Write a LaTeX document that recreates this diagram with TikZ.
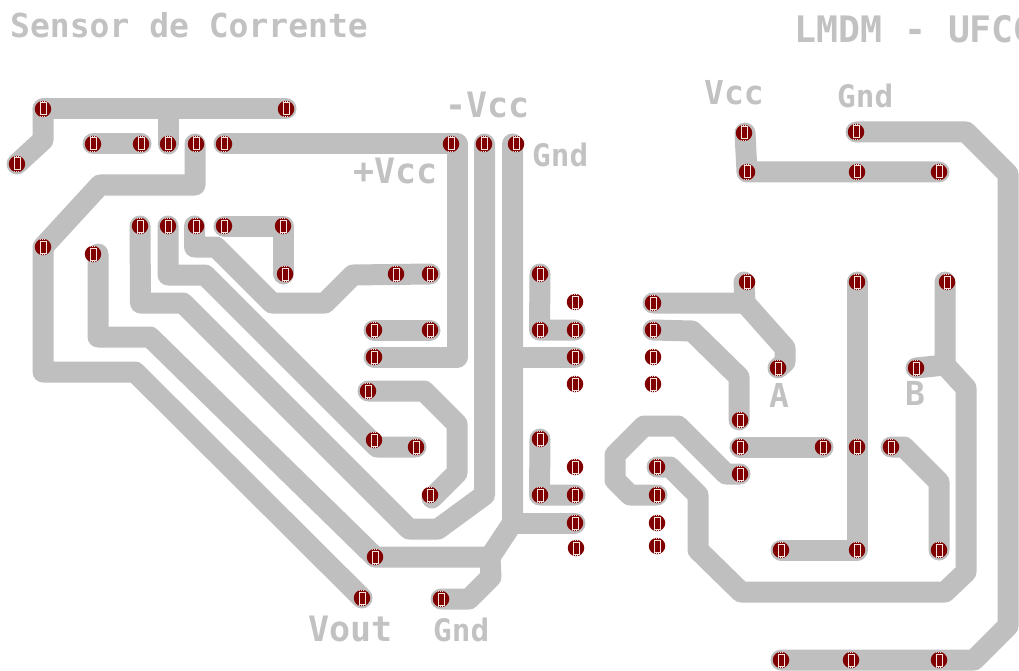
\documentclass[tikz,border=0pt]{standalone}
\usepackage{fontspec}
\setmainfont{DejaVu Sans Mono}
\definecolor{trk}{HTML}{BFBFBF}
\definecolor{txtc}{HTML}{C2C2C2}
\definecolor{padc}{HTML}{800000}
\definecolor{padm}{HTML}{F4E4E4}
\tikzset{
  trace/.style={draw=trk,line width=21pt,line cap=round,line join=round},
  padnode/.style={circle,fill=padc,draw=none,minimum size=16.5pt,inner sep=0pt,
    path picture={
      \draw[padm,line width=1pt] (-3,-6) rectangle (3,6);
      \draw[padm,line width=1pt,dash pattern=on 1pt off 1pt] (-3,-9) -- (3,-9) (-3,-7.6) -- (3,-7.6) (-3,9) -- (3,9) (-3,7.6) -- (3,7.6);
    }},
  lbl/.style={text=txtc,inner sep=0pt,anchor=base west,font=\bfseries\fontsize{33}{33}\selectfont},
}
\begin{document}
\begin{tikzpicture}[x=1pt,y=-1pt]
\useasboundingbox (0,0) rectangle (1019,671);
\foreach \n/\x/\y in {
 a/43/109,b/286/109,c/17/164,d/93/144,e/141/144,f/168/144,g/196/144,h/224/144,i/451/144,j/484/144,k/516/144,
 l/43/247,m/93/254,n/140/226,o/168/226,q/196/226,r/224/226,s/283/226,t/285/274,u/396/274,v/430/274,
 w/374/330,x/430/330,y/374/357,z/368/391,aa/374/440,ab/416/447,ac/430/495,ad/375/557,ae/362/598,af/441/599,
 ag/540/274,ah/575/302,ai/540/330,aj/575/330,ak/575/357,al/575/384,am/540/439,an/575/467,ao/540/495,ap/575/495,aq/575/523,ar/576/548,
 as/653/303,at/653/330,au/653/357,av/653/384,aw/657/467,ax/657/495,ay/657/523,az/657/546,
 ba/744/133,bb/856/132,bc/747/172,bd/857/172,be/939/172,bf/747/282,bg/857/282,bh/947/282,bi/778/368,bj/916/368,
 bk/740/420,bl/740/447,bm/823/447,bn/857/447,bo/891/447,bp/740/474,bq/781/550,br/857/550,bs/939/550,bt/781/660,bu/851/660,bv/939/660}
 {\coordinate (p\n) at (\x,\y);}
% traces
\draw[trace] (pa) -- (43,140) -- (pc);
\draw[trace] (pa) -- (pb);
\draw[trace] (168,109) -- (pf);
\draw[trace] (pd) -- (pe);
\draw[trace] (195,144) -- (195,185) -- (100,185) -- (pl) -- (43,372) -- (135,372) -- (pae);
\draw[trace] (ph) -- (457,144) -- (457,357) -- (py);
\draw[trace] (484.5,144) -- (484.5,495) -- (438,529) -- (409,529) -- (183,303) -- (140.5,303) -- (pn);
\draw[trace] (512.5,144) -- (512.5,523) -- (490,557) -- (pad);
\draw[trace] (512.5,523) -- (paq);
\draw[trace] (512.5,357) -- (pak);
\draw[trace] (490,557) -- (491,577) -- (469,599) -- (paf);
\draw[trace] (pag) -- (539.5,330) -- (paj);
\draw[trace] (pam) -- (539.5,495) -- (pap);
\draw[trace] (98,254) -- (98,337) -- (150,337) -- (pad);
\draw[trace] (po) -- (168,275) -- (205,275) -- (377,447) -- (pab);
\draw[trace] (194.5,226) -- (194.5,247) -- (216,247) -- (272,303) -- (325,303) -- (353,275) -- (pv);
\draw[trace] (pr) -- (283.5,226) -- (283.5,274);
\draw[trace] (pw) -- (px);
\draw[trace] (pz) -- (424,391) -- (457,424) -- (457,473) -- (432,498);
% right part
\draw[trace] (745,133) -- (pbc) -- (pbe);
\draw[trace] (pbb) -- (966,132) -- (1008,174) -- (1008,626) -- (974,660) -- (pbt);
\draw[trace] (pas) -- (745,303) -- (785,348) -- (785,362) -- (pbi);
\draw[trace] (744,282) -- (745,303);
\draw[trace] (pat) -- (692,331) -- (739,377) -- (739,420);
\draw[trace] (pbg) -- (pbr) -- (pbq);
\draw[trace] (945,282) -- (945,365) -- (966,388) -- (966,572) -- (945,592) -- (741,592) -- (698,550) -- (698,495) -- (670,467) -- (paw);
\draw[trace] (945,365) -- (pbj);
\draw[trace] (pax) -- (630,495) -- (615,480) -- (615,455) -- (644,426) -- (678,426) -- (726,474) -- (pbp);
\draw[trace] (pbl) -- (pbm);
\draw[trace] (pbo) -- (904,447) -- (939,482) -- (pbs);
% pads
\foreach \n in {a,b,c,d,e,f,g,h,i,j,k,l,m,n,o,q,r,s,t,u,v,w,x,y,z,aa,ab,ac,ad,ae,af,ag,ah,ai,aj,ak,al,am,an,ao,ap,aq,ar,as,at,au,av,aw,ax,ay,az,ba,bb,bc,bd,be,bf,bg,bh,bi,bj,bk,bl,bm,bn,bo,bp,bq,br,bs,bt,bu,bv}
 {\node[padnode] (pad\n) at (p\n) {};}
% labels
\node[lbl] (t1) at (10,38) {Sensor de Corrente};
\node[lbl,font=\bfseries\fontsize{36.5}{36}\selectfont] (t2) at (794,43) {LMDM - UFCG};
\node[lbl] (t3) at (704,105) {Vcc};
\node[lbl,font=\bfseries\fontsize{31}{31}\selectfont] (t4) at (837,108) {Gnd};
\node[lbl,font=\bfseries\fontsize{35}{35}\selectfont] (t5) at (445,118) {-Vcc};
\node[lbl,font=\bfseries\fontsize{31}{31}\selectfont] (t6) at (532,167) {Gnd};
\node[lbl,font=\bfseries\fontsize{35}{35}\selectfont] (t7) at (353,183) {+Vcc};
\node[lbl] (t8) at (769,407) {A};
\node[lbl] (t9) at (905,405) {B};
\node[lbl,font=\bfseries\fontsize{35}{35}\selectfont] (t10) at (308,641) {Vout};
\node[lbl,font=\bfseries\fontsize{31}{31}\selectfont] (t11) at (433,641) {Gnd};
\end{tikzpicture}
\end{document}
